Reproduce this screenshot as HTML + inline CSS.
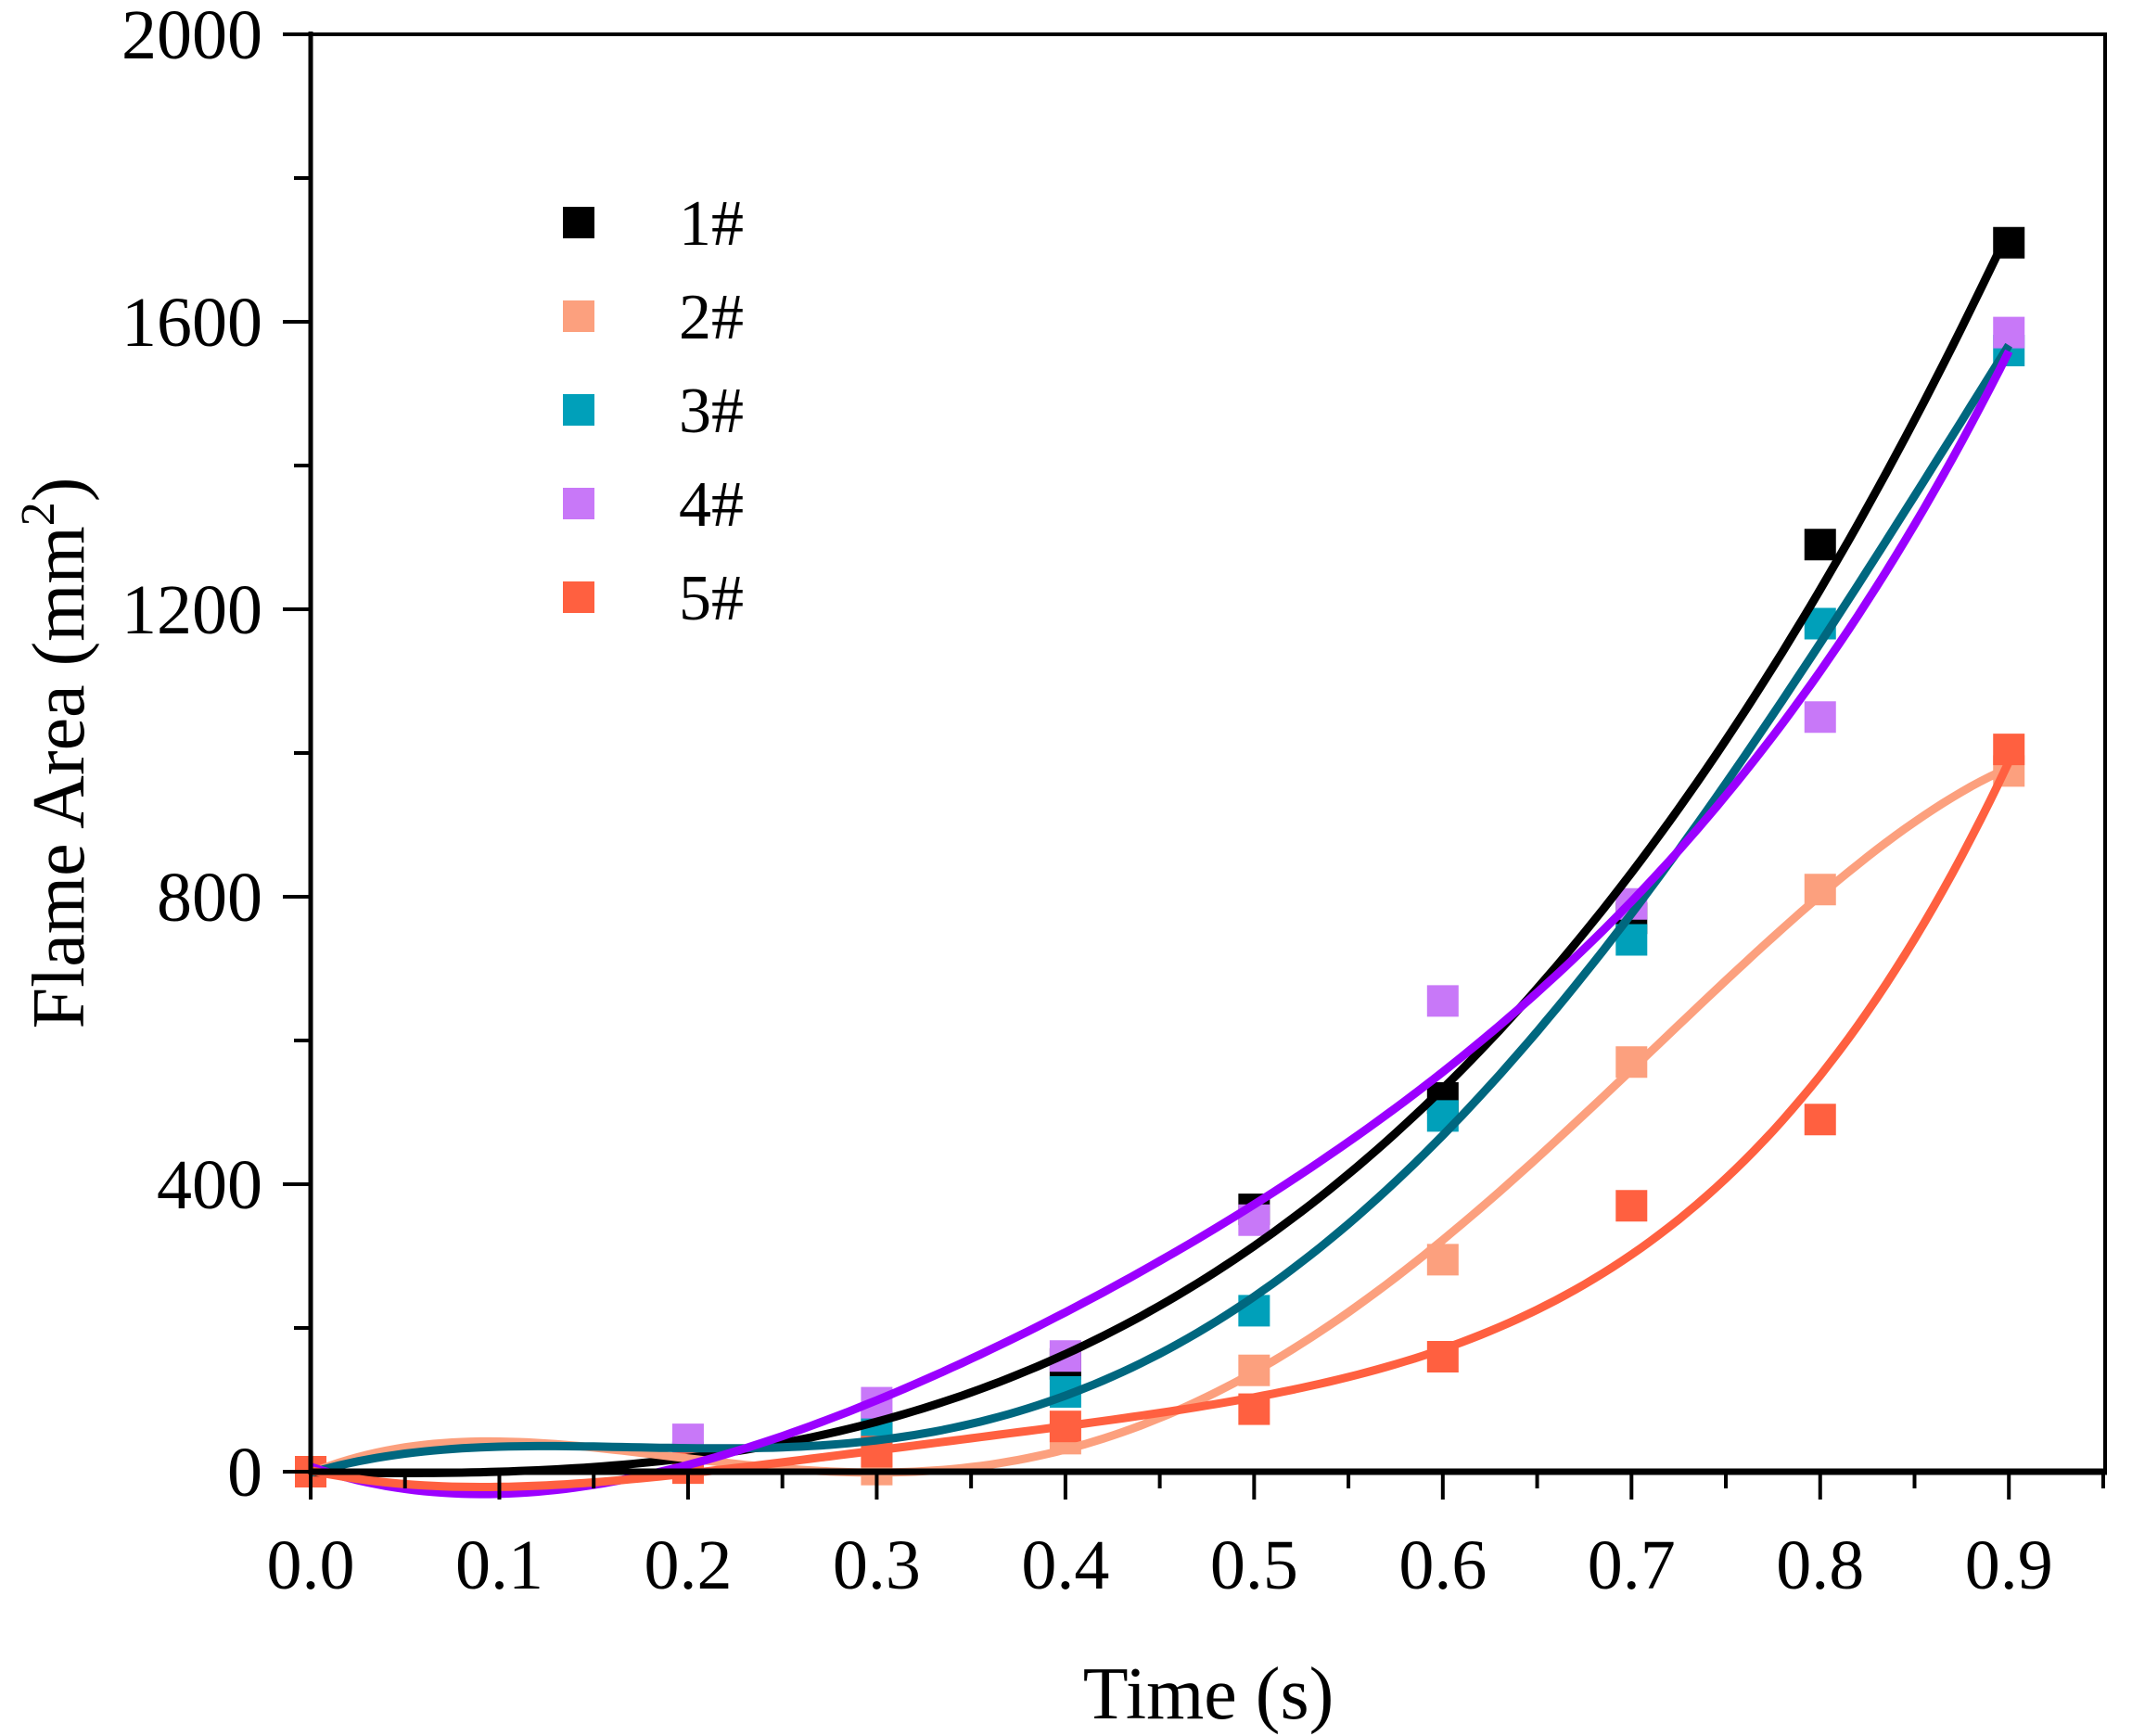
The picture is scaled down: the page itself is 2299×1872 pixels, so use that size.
<!DOCTYPE html>
<html><head><meta charset="utf-8"><style>
html,body{margin:0;padding:0;background:#fff}
svg{display:block;font-family:"Liberation Serif",serif}
</style></head><body>
<svg id="chart" width="2299" height="1872" viewBox="0 0 2299 1872" xmlns="http://www.w3.org/2000/svg">
<g id="marks"></g>
<g id="lines"></g>
<g id="axes"></g>
<g id="legend"></g>
<text x="1303" y="1853" font-size="80" text-anchor="middle">Time (s)</text>
<text transform="translate(90,812) rotate(-90)" font-size="80" text-anchor="middle">Flame Area (mm<tspan font-size="52" dy="-32">2</tspan><tspan dy="32">)</tspan></text>
</svg>
<script>
const times = [0, 0.2, 0.3, 0.4, 0.5, 0.6, 0.7, 0.8, 0.9];
const series1 = [0, 20, 62, 150, 365, 520, 770, 1290, 1710];
const series2 = [0, 8, 3, 46, 141, 295, 570, 810, 975];
const series3 = [0, 20, 59, 111, 224, 495, 740, 1180, 1560];
const series4 = [0, 45, 96, 161, 350, 655, 790, 1050, 1585];
const series5 = [0, 5, 28, 63, 87, 160, 370, 490, 1005];
const seriesNames = ["1#", "2#", "3#", "4#", "5#"];
const xTicks = [0, 0.1, 0.2, 0.3, 0.4, 0.5, 0.6, 0.7, 0.8, 0.9];
const xTickLabels = ["0.0","0.1","0.2","0.3","0.4","0.5","0.6","0.7","0.8","0.9"];
const yTicks = [0, 400, 800, 1200, 1600, 2000];
const yTickLabels = ["0","400","800","1200","1600","2000"];

const NS = "http://www.w3.org/2000/svg";
const L = 335, R = 2270, T = 37, B = 1587;
const xMax = 0.951, yMax = 2000;
const X = v => L + (v / xMax) * (R - L);
const Y = v => B - (v / yMax) * (B - T);
const markerColors = ["#000000", "#FCA07E", "#00A0BA", "#C878F8", "#FF6040"];
const lineColors = ["#000000", "#FCA07E", "#00677F", "#9B00FF", "#FF6040"];
const allSeries = [series1, series2, series3, series4, series5];

function mk(tag, attrs, parent) {
  const e = document.createElementNS(NS, tag);
  for (const k in attrs) e.setAttribute(k, attrs[k]);
  parent.appendChild(e);
  return e;
}

function polyFit(xs, ys, deg) {
  const n = deg + 1;
  const A = [];
  for (let i = 0; i < n; i++) { A.push(new Array(n + 1).fill(0)); }
  xs.forEach((x, k) => {
    for (let i = 0; i < n; i++) {
      for (let j = 0; j < n; j++) A[i][j] += Math.pow(x, i + j);
      A[i][n] += ys[k] * Math.pow(x, i);
    }
  });
  for (let i = 0; i < n; i++) {
    let p = i;
    for (let r = i + 1; r < n; r++) if (Math.abs(A[r][i]) > Math.abs(A[p][i])) p = r;
    [A[i], A[p]] = [A[p], A[i]];
    for (let r = 0; r < n; r++) {
      if (r === i) continue;
      const f = A[r][i] / A[i][i];
      for (let c = i; c <= n; c++) A[r][c] -= f * A[i][c];
    }
  }
  return A.map((row, i) => row[n] / row[i]);
}

const marks = document.getElementById("marks");
const lines = document.getElementById("lines");
const S = 34;
allSeries.forEach((vals, si) => {
  const g = mk("g", {}, marks);
  
  
  vals.forEach((v, i) => {
    const r = mk("rect", {x: X(times[i]) - S / 2, y: Y(v) - S / 2, width: S, height: S, fill: markerColors[si]}, g);
    
    
  });
});
allSeries.forEach((vals, si) => {
  const c = polyFit(times, vals, 4);
  let d = "";
  for (let k = 0; k <= 180; k++) {
    const x = 0.9 * k / 180;
    let y = 0;
    for (let p = 0; p < c.length; p++) y += c[p] * Math.pow(x, p);
    d += (k ? "L" : "M") + X(x).toFixed(1) + "," + Y(y).toFixed(1);
  }
  const p = mk("path", {d: d, fill: "none", stroke: lineColors[si], "stroke-width": 9}, lines);
  
  
});

const axes = document.getElementById("axes");
const frame = mk("path", {d: `M${L},${T}H${R}V${B}`, fill: "none", stroke: "#000", "stroke-width": 4}, axes);


const xa = mk("line", {x1: L - 2, y1: B, x2: R + 2, y2: B, stroke: "#000", "stroke-width": 7}, axes);


const ya = mk("line", {x1: L, y1: T - 3, x2: L, y2: B + 3, stroke: "#000", "stroke-width": 5}, axes);


xTicks.forEach((t, i) => {
  mk("line", {x1: X(t), y1: B, x2: X(t), y2: B + 30, stroke: "#000", "stroke-width": 4}, axes);
  if (t + 0.05 < xMax) mk("line", {x1: X(t + 0.05), y1: B, x2: X(t + 0.05), y2: B + 18, stroke: "#000", "stroke-width": 4}, axes);
  const tx = mk("text", {x: X(t), y: B + 126, "font-size": 76, "text-anchor": "middle"}, axes);
  tx.textContent = xTickLabels[i];
  
  
});
yTicks.forEach((t, i) => {
  mk("line", {x1: L, y1: Y(t), x2: L - 30, y2: Y(t), stroke: "#000", "stroke-width": 4}, axes);
  if (t + 200 < yMax) mk("line", {x1: L, y1: Y(t + 200), x2: L - 18, y2: Y(t + 200), stroke: "#000", "stroke-width": 4}, axes);
  const tx = mk("text", {x: L - 52, y: Y(t) + 26, "font-size": 76, "text-anchor": "end"}, axes);
  tx.textContent = yTickLabels[i];
  
  
});

const legend = document.getElementById("legend");
seriesNames.forEach((n, i) => {
  const cy = 240 + i * 101;
  const r = mk("rect", {x: 607, y: cy - 17, width: 34, height: 34, fill: markerColors[i]}, legend);
  
  
  const t = mk("text", {x: 732, y: cy + 24, "font-size": 70}, legend);
  t.textContent = n;
  
  
});
</script>
</body></html>
